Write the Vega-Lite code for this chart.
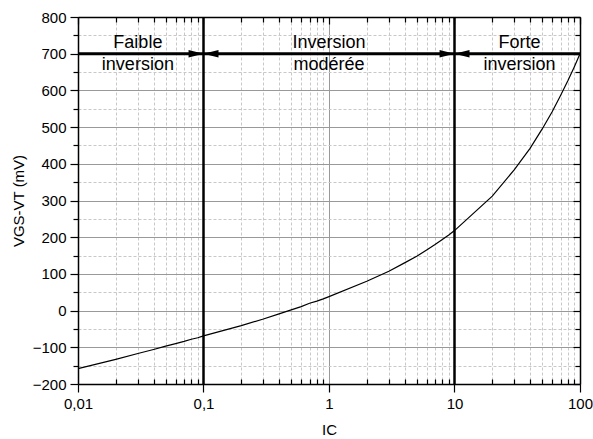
{
  "$schema": "https://vega.github.io/schema/vega-lite/v6.json",
  "width": 502,
  "height": 367,
  "autosize": "none",
  "padding": {"left": 78, "top": 17, "right": 13, "bottom": 55},
  "config": {"font": "Liberation Sans", "view": {"stroke": null}},
  "datasets": {
    "curve": [
      {"ic": 0.01, "v": -158}, {"ic": 0.02, "v": -133}, {"ic": 0.03, "v": -117},
      {"ic": 0.04, "v": -106}, {"ic": 0.05, "v": -97}, {"ic": 0.06, "v": -90},
      {"ic": 0.07, "v": -84}, {"ic": 0.08, "v": -78}, {"ic": 0.09, "v": -74},
      {"ic": 0.1, "v": -69}, {"ic": 0.2, "v": -41}, {"ic": 0.3, "v": -23},
      {"ic": 0.4, "v": -9}, {"ic": 0.5, "v": 2}, {"ic": 0.6, "v": 11},
      {"ic": 0.7, "v": 20}, {"ic": 0.8, "v": 26}, {"ic": 0.9, "v": 32},
      {"ic": 1, "v": 38}, {"ic": 2, "v": 80}, {"ic": 3, "v": 107},
      {"ic": 4, "v": 130}, {"ic": 5, "v": 148}, {"ic": 6, "v": 165},
      {"ic": 7, "v": 180}, {"ic": 8, "v": 194}, {"ic": 9, "v": 206},
      {"ic": 10, "v": 218}, {"ic": 20, "v": 312}, {"ic": 30, "v": 384},
      {"ic": 40, "v": 442}, {"ic": 50, "v": 495}, {"ic": 60, "v": 542},
      {"ic": 70, "v": 586}, {"ic": 80, "v": 626}, {"ic": 90, "v": 664},
      {"ic": 100, "v": 700}
    ],
    "labels": [
      {"ic": 0.03, "v": 729, "t": "Faible"},
      {"ic": 0.03, "v": 669, "t": "inversion"},
      {"ic": 1, "v": 729, "t": "Inversion"},
      {"ic": 1, "v": 669, "t": "modérée"},
      {"ic": 33, "v": 729, "t": "Forte"},
      {"ic": 33, "v": 669, "t": "inversion"}
    ],
    "vlines": [{"ic": 0.1}, {"ic": 10}],
    "hline": [{"ic": 0.01, "ic2": 100, "v": 700}],
    "heads": [
      {"ic": 0.0872, "v": 700, "dir": "right"},
      {"ic": 0.1147, "v": 700, "dir": "left"},
      {"ic": 8.72, "v": 700, "dir": "right"},
      {"ic": 11.47, "v": 700, "dir": "left"}
    ]
  },
  "layer": [
    {
      "data": {"name": "curve"},
      "mark": {"type": "line", "color": "black", "strokeWidth": 1.2},
      "encoding": {
        "x": {
          "field": "ic", "type": "quantitative",
          "scale": {"type": "log", "domain": [0.01, 100], "nice": false},
          "axis": {
            "orient": "bottom",
            "title": "IC",
            "values": [0.01,0.02,0.03,0.04,0.05,0.06,0.07,0.08,0.09,0.1,0.2,0.3,0.4,0.5,0.6,0.7,0.8,0.9,1,2,3,4,5,6,7,8,9,10,20,30,40,50,60,70,80,90,100],
            "format": "~g",
            "labelExpr": "indexof([0.01,0.1,1,10,100], datum.value) >= 0 ? replace(datum.label, '.', ',') : ''",
            "labelFlush": false, "labelOverlap": false, "labelBound": false,
            "labelFontSize": 15, "labelColor": "black", "labelPadding": 4,
            "titleFontSize": 15, "titleFontWeight": "normal", "titleColor": "black", "titlePadding": 11,
            "domainColor": "black", "domainWidth": 1.5,
            "tickColor": "black", "tickWidth": 1.2,
            "tickSize": {"condition": {"test": "indexof([0.01,0.1,1,10,100], datum.value) >= 0", "value": 8}, "value": -5},
            "grid": true,
            "gridColor": {"condition": {"test": "indexof([0.01,0.1,1,10,100], datum.value) >= 0", "value": "#999999"}, "value": "#c8c8c8"},
            "gridDash": {"condition": {"test": "indexof([0.01,0.1,1,10,100], datum.value) >= 0", "value": []}, "value": [3, 2]},
            "gridWidth": 1
          }
        },
        "y": {
          "field": "v", "type": "quantitative",
          "scale": {"domain": [-200, 800], "nice": false},
          "axis": {
            "orient": "left",
            "title": "VGS-VT (mV)",
            "values": [-200,-150,-100,-50,0,50,100,150,200,250,300,350,400,450,500,550,600,650,700,750,800],
            "labelExpr": "datum.value % 100 == 0 ? datum.label : ''",
            "labelOverlap": false, "labelFlush": false, "labelBound": false,
            "labelFontSize": 15, "labelColor": "black", "labelPadding": 4,
            "titleFontSize": 15, "titleFontWeight": "normal", "titleColor": "black", "titlePadding": 6,
            "domainColor": "black", "domainWidth": 1.5,
            "tickColor": "black", "tickWidth": 1.2,
            "tickSize": {"condition": {"test": "datum.value % 100 == 0", "value": 8}, "value": 5},
            "grid": true,
            "gridColor": {"condition": {"test": "datum.value % 100 == 0", "value": "#999999"}, "value": "#c8c8c8"},
            "gridDash": {"condition": {"test": "datum.value % 100 == 0", "value": []}, "value": [3, 2]},
            "gridWidth": 1
          }
        }
      }
    },
    {
      "data": {"name": "hline"},
      "mark": {"type": "rule", "color": "black", "strokeWidth": 3},
      "encoding": {
        "x": {
          "field": "ic", "type": "quantitative",
          "axis": {
            "orient": "top", "title": null, "labels": false, "grid": false,
            "values": [0.01,0.02,0.03,0.04,0.05,0.06,0.07,0.08,0.09,0.1,0.2,0.3,0.4,0.5,0.6,0.7,0.8,0.9,1,2,3,4,5,6,7,8,9,10,20,30,40,50,60,70,80,90,100],
            "domainColor": "black", "domainWidth": 1.5,
            "tickColor": "black", "tickWidth": 1.2,
            "tickSize": {"condition": {"test": "indexof([0.01,0.1,1,10,100], datum.value) >= 0", "value": -7}, "value": -5}
          }
        },
        "x2": {"field": "ic2"},
        "y": {
          "field": "v", "type": "quantitative",
          "axis": {
            "orient": "right", "title": null, "labels": false, "grid": false,
            "values": [-200,-150,-100,-50,0,50,100,150,200,250,300,350,400,450,500,550,600,650,700,750,800],
            "domainColor": "black", "domainWidth": 1.5,
            "tickColor": "black", "tickWidth": 1.2,
            "tickSize": {"condition": {"test": "datum.value % 100 == 0", "value": -7}, "value": -5}
          }
        }
      }
    },
    {
      "data": {"name": "vlines"},
      "mark": {"type": "rule", "color": "black", "strokeWidth": 2.5},
      "encoding": {
        "x": {"field": "ic", "type": "quantitative", "axis": null}
      }
    },
    {
      "data": {"name": "heads"},
      "mark": {"type": "point", "filled": true, "color": "black", "opacity": 1, "size": 225},
      "encoding": {
        "x": {"field": "ic", "type": "quantitative", "axis": null},
        "y": {"field": "v", "type": "quantitative", "axis": null},
        "shape": {
          "field": "dir", "type": "nominal", "legend": null,
          "scale": {"domain": ["right", "left"], "range": ["M-1,-0.5L1,0L-1,0.5Z", "M1,-0.5L-1,0L1,0.5Z"]}
        }
      }
    },
    {
      "data": {"name": "labels"},
      "mark": {"type": "text", "fontSize": 18, "color": "black", "align": "center", "baseline": "middle"},
      "encoding": {
        "x": {"field": "ic", "type": "quantitative", "axis": null},
        "y": {"field": "v", "type": "quantitative", "axis": null},
        "text": {"field": "t"}
      }
    }
  ],
  "resolve": {"axis": {"x": "independent", "y": "independent"}}
}
